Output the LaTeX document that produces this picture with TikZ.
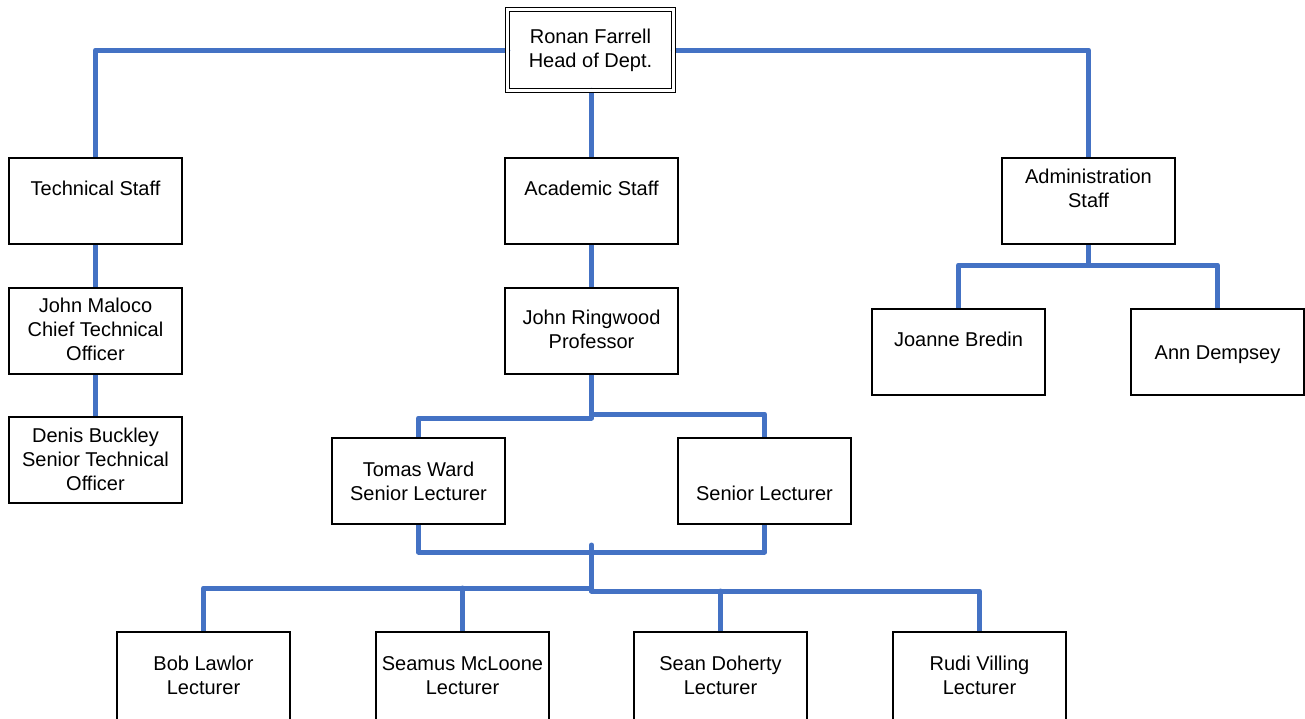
\documentclass[tikz,border=0pt]{standalone}
\usepackage{fontspec}
\setmainfont{Liberation Sans}
\usetikzlibrary{backgrounds}
\definecolor{connblue}{HTML}{4472C4}
\tikzset{
  orgbox/.style={draw=black, line width=1.5pt, inner sep=0pt, outer sep=0pt, anchor=north west, fill=white},
  headbox/.style={draw=black, double=white, line width=1.4pt, double distance=2.6pt, inner sep=0pt, outer sep=0pt},
  link/.style={draw=connblue, line width=5pt, line cap=round, line join=round},
}
\newcommand\bt[3][86pt]{\begin{minipage}[t][#1][t]{173pt}\centering\vspace*{#2}#3\end{minipage}}
\begin{document}
\begin{tikzpicture}[x=1pt,y=-1pt,font=\fontsize{20}{24}\selectfont]
\useasboundingbox (0,0) rectangle (1305,718);
% head
\node[headbox] (head) at (590.5,50)
  {\begin{minipage}[t][80.5pt][t]{165.5pt}\centering\vspace*{17.4pt}\strut Ronan Farrell\\\strut Head of Dept.\end{minipage}};
% level 1
\node[orgbox] (tech)  at (9,158)    {\bt{20.2pt}{\strut Technical Staff}};
\node[orgbox] (acad)  at (505,158)  {\bt{20.2pt}{\strut Academic Staff}};
\node[orgbox] (admin) at (1002,158) {\bt{8.2pt}{\strut Administration\\\strut Staff}};
% technical
\node[orgbox] (maloco)  at (9,288) {\bt{7.2pt}{\strut John Maloco\\\strut Chief Technical\\\strut Officer}};
\node[orgbox] (buckley) at (9,417) {\bt{8.2pt}{\strut Denis Buckley\\\strut Senior Technical\\\strut Officer}};
% academic
\node[orgbox] (ring)   at (505,288) {\bt{19.2pt}{\strut John Ringwood\\\strut Professor}};
\node[orgbox] (tomas)  at (332,438) {\bt{21.2pt}{\strut Tomas Ward\\\strut Senior Lecturer}};
\node[orgbox] (senior) at (678,438) {\bt{45.2pt}{\strut Senior Lecturer}};
\node[orgbox] (bob)    at (117,632) {\bt[92pt]{21.2pt}{\strut Bob Lawlor\\\strut Lecturer}};
\node[orgbox] (seamus) at (376,632) {\bt[92pt]{21.2pt}{\strut Seamus McLoone\\\strut Lecturer}};
\node[orgbox] (sean)   at (634,632) {\bt[92pt]{21.2pt}{\strut Sean Doherty\\\strut Lecturer}};
\node[orgbox] (rudi)   at (893,632) {\bt[92pt]{21.2pt}{\strut Rudi Villing\\\strut Lecturer}};
% administration
\node[orgbox] (joanne) at (872,309)  {\bt{20.2pt}{\strut Joanne Bredin}};
\node[orgbox] (ann)    at (1131,309) {\bt{33.2pt}{\strut Ann Dempsey}};
% junctions
\coordinate (rj1) at (591.5,418);
\coordinate (rj2) at (591.5,414);
\coordinate (lj)  at (591.5,552);
\coordinate (lt)  at (591.5,545);
\coordinate (lb1) at (591.5,588);
\coordinate (lb2) at (591.5,591);
\coordinate (aj)  at (1088.5,265);
\begin{scope}[on background layer]
\draw[link] (head.west) -| (tech.north);
\draw[link] (head.east) -| (admin.north);
\draw[link] (acad.north |- head.south) -- (acad.north);
\draw[link] (tech.south) -- (maloco.north);
\draw[link] (maloco.south) -- (buckley.north);
\draw[link] (acad.south) -- (ring.north);
\draw[link] (ring.south) -- (rj1) -| (tomas.north);
\draw[link] (rj2) -| (senior.north);
\draw[link] (tomas.south) |- (lj) -| (senior.south);
\draw[link] (lt) -- (lb2);
\draw[link] (lb1) -| (bob.north);
\draw[link] (lb1 -| seamus.north) -- (seamus.north);
\draw[link] (lb2) -| (rudi.north);
\draw[link] (lb2 -| sean.north) -- (sean.north);
\draw[link] (admin.south) -- (aj);
\draw[link] (aj) -| (joanne.north);
\draw[link] (aj) -| (ann.north);
\end{scope}
\end{tikzpicture}
\end{document}
